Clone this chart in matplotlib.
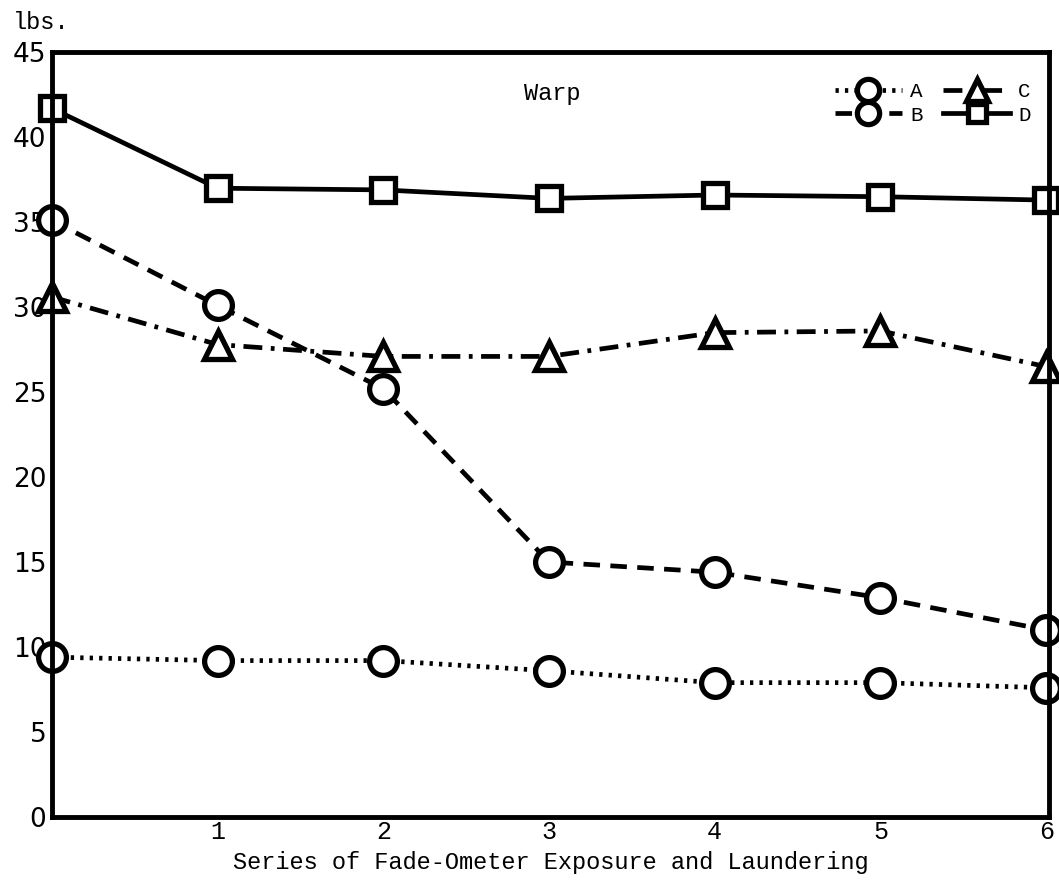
import matplotlib
matplotlib.use("Agg")
import matplotlib.pyplot as plt

x = [0, 1, 2, 3, 4, 5, 6]
series_a = [9.4, 9.2, 9.2, 8.6, 7.9, 7.9, 7.6]
series_b = [35.1, 30.1, 25.2, 15.0, 14.4, 12.9, 11.0]
series_c = [30.6, 27.8, 27.1, 27.1, 28.5, 28.6, 26.5]
series_d = [41.7, 37.0, 36.9, 36.4, 36.6, 36.5, 36.3]
yticks = [0, 5, 10, 15, 20, 25, 30, 35, 40, 45]
xticks = [1, 2, 3, 4, 5, 6]

fig = plt.figure(figsize=(10.59, 8.86), dpi=100)
ax = fig.add_axes([0.049, 0.078, 0.942, 0.863])

common = dict(color="black", lw=3.4, ms=20, mew=3.8, mfc="white", mec="black", clip_on=False)
ax.plot(x, series_a, linestyle=(0, (0.7, 1.3)), marker="o", label="A", **common)
ax.plot(x, series_b, linestyle=(0, (3.5, 2.2)), marker="o", label="B", **common)
ax.plot(x, series_c, linestyle=(0, (4, 1.8, 0.8, 1.8)), marker="^", label="C", **common)
ax.plot(x, series_d, linestyle="-", marker="s", label="D", **{**common, "ms": 17})

ax.set_xlim(0, 6.02)
ax.set_ylim(0, 45)
for s in ax.spines.values():
    s.set_linewidth(3.5)
ax.set_yticks(yticks)
ax.set_yticklabels([str(v) for v in yticks], fontsize=19, family="DejaVu Sans")
ax.set_xticks(xticks)
ax.set_xticklabels([str(v) for v in xticks], fontsize=18, family="Liberation Mono")
ax.tick_params(axis="both", length=0)
ax.tick_params(axis="y", pad=4)
ax.tick_params(axis="x", pad=2)
ax.set_xlabel("Series of Fade-Ometer Exposure and Laundering", fontsize=17,
              family="Liberation Mono", labelpad=5)

ax.text(3.02, 42.6, "Warp", fontsize=17, family="Liberation Mono", ha="center", va="center")
fig.text(0.012, 0.975, "lbs.", fontsize=17, family="Liberation Mono", ha="left", va="center")

leg = ax.legend(ncol=2, loc="upper right", bbox_to_anchor=(1.0, 0.985), frameon=False,
                prop={"family": "Liberation Mono", "size": 15},
                handlelength=3.2, markerscale=0.8, columnspacing=1.0,
                labelspacing=0.2, handletextpad=0.4)

fig.savefig("out.png", dpi=100, facecolor="white")
